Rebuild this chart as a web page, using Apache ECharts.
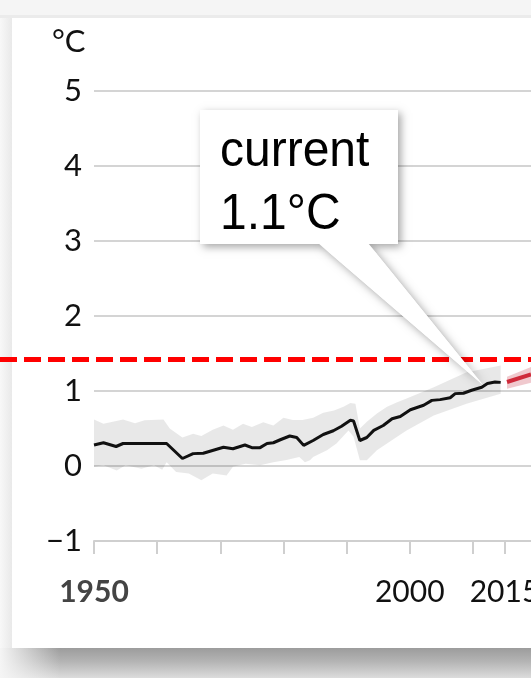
<!DOCTYPE html>
<html>
<head>
    <meta charset="utf-8" />
    <title>Global temperature | current 1.1°C</title>
    <style>
        html, body { margin: 0; padding: 0; background: #f5f5f5; }
        #chart { width: 531px; height: 678px; }
    </style>
</head>
<body>
    <div id="chart"></div>

    <script src="https://cdn.jsdelivr.net/npm/echarts@6/dist/echarts.min.js"></script>
    <script type="text/javascript">

        // observed temperature anomaly (black line)
        var lineYears = [1950, 1951.5, 1953.5, 1954.6, 1961.5, 1964, 1965.7, 1967.3, 1970.5, 1972, 1973.9, 1975,
            1976.3, 1977.4, 1978.4, 1979.5, 1981, 1982.1, 1983.2, 1984.7, 1986.3, 1987.9, 1989.2, 1990.6,
            1991.1, 1992.1, 1993.2, 1994.3, 1995.8, 1997.2, 1998.5, 2000.1, 2002.2, 2003.5, 2004.8, 2006.4,
            2007.2, 2008.5, 2009.8, 2011.4, 2012.3, 2013.5, 2014.4];
        var lineTemps = [0.28, 0.31, 0.26, 0.30, 0.30, 0.10, 0.165, 0.17, 0.25, 0.23, 0.28, 0.245,
            0.245, 0.30, 0.31, 0.35, 0.40, 0.38, 0.275, 0.34, 0.42, 0.47, 0.53, 0.61,
            0.60, 0.34, 0.38, 0.475, 0.54, 0.63, 0.66, 0.75, 0.81, 0.875, 0.885, 0.91,
            0.965, 0.97, 1.01, 1.05, 1.10, 1.12, 1.115];

        // uncertainty band (grey)
        var upperYears = [1950, 1951.5, 1954.6, 1956.5, 1958, 1961, 1962, 1964, 1965.7, 1967, 1968.8, 1970.5,
            1972, 1973.6, 1975, 1976.8, 1978.4, 1980, 1981.5, 1983, 1984.7, 1986.3, 1988, 1989.5, 1990.6,
            1991.4, 1992.1, 1993.2, 1994.8, 1996.4, 1998, 1999.5, 2003.8, 2009, 2014.4];
        var upperTemps = [0.62, 0.565, 0.62, 0.57, 0.61, 0.62, 0.50, 0.38, 0.43, 0.40, 0.485, 0.54,
            0.485, 0.565, 0.52, 0.585, 0.54, 0.645, 0.615, 0.615, 0.645, 0.71, 0.74, 0.79, 0.84,
            0.83, 0.50, 0.59, 0.70, 0.79, 0.85, 0.90, 1.05, 1.25, 1.34];
        var lowerYears = [1950, 1951.5, 1953.6, 1955, 1957.5, 1959.5, 1960.8, 1961.5, 1963, 1965, 1967, 1968.8,
            1971, 1972, 1974, 1976.3, 1978.4, 1980.5, 1982.5, 1983.4, 1984.2, 1984.7, 1986.9, 1988.4,
            1990.3, 1991.1, 1992.1, 1993.2, 1994.8, 1996.4, 1998, 1999.5, 2003.8, 2009, 2014.4];
        var lowerTemps = [-0.01, 0.01, -0.06, 0.01, -0.035, 0.01, -0.05, 0.05, -0.08, -0.10, -0.19, -0.10,
            -0.125, -0.01, 0.03, 0.01, 0.05, 0.08, 0.12, 0.05, 0.076, 0.12, 0.21, 0.30,
            0.475, 0.39, 0.076, 0.076, 0.21, 0.30, 0.39, 0.475, 0.675, 0.83, 0.965];

        // projection (red)
        var projYears = [2015.4, 2019.2];
        var projTemps = [1.12, 1.22];
        var projUpper = [1.19, 1.32];
        var projLower = [1.03, 1.11];

        var yTicks = [-1, 0, 1, 2, 3, 4, 5];
        var xTickYears = [1950, 1960, 1970, 1980, 1990, 2000, 2010, 2015];
        var xLabelYears = [1950, 2000, 2015];
        var limitLevel = 1.42;
        var currentPoint = [2011.6, 1.08];
        var calloutLines = ['current', '1.1°C'];

        function pairs(xs, ys) {
            return xs.map(function (x, i) { return [x, ys[i]]; });
        }

        function bandItem(uX, uY, lX, lY, color) {
            return function (params, api) {
                var pts = [];
                for (var i = 0; i < uX.length; i++) pts.push(api.coord([uX[i], uY[i]]));
                for (var j = lX.length - 1; j >= 0; j--) pts.push(api.coord([lX[j], lY[j]]));
                return { type: 'polygon', shape: { points: pts }, style: { fill: color } };
            };
        }

        var chart = echarts.init(document.getElementById('chart'));

        var option = {
            animation: false,
            title: {
                text: '°C',
                left: 52,
                top: 26,
                padding: 0,
                textStyle: { fontFamily: 'Lato', fontSize: 31, fontWeight: 'normal', color: '#111' }
            },
            grid: { left: 94, right: 0, top: 91, bottom: 137, containLabel: false, outerBoundsMode: 'none' },
            xAxis: {
                type: 'value',
                min: 1950,
                max: 2019.2,
                splitLine: { show: false },
                axisLine: { show: true, onZero: false, lineStyle: { color: '#cfcfcf', width: 2 } },
                axisTick: { show: true, customValues: xTickYears, length: 13, lineStyle: { color: '#cfcfcf', width: 2 } },
                axisLabel: {
                    customValues: xLabelYears,
                    margin: 36,
                    fontFamily: 'Lato',
                    fontSize: 30,
                    color: '#111',
                    formatter: function (v) { return v === 1950 ? '{a|' + v + '}' : String(v); },
                    rich: { a: { fontFamily: 'Lato', fontSize: 30, fontWeight: 'bold', color: '#444' } }
                }
            },
            yAxis: {
                type: 'value',
                min: yTicks[0],
                max: yTicks[yTicks.length - 1],
                interval: 1,
                axisLine: { show: false },
                axisTick: { show: false },
                splitLine: { lineStyle: { color: '#d4d4d4', width: 2 } },
                axisLabel: {
                    margin: 12,
                    fontFamily: 'Lato',
                    fontSize: 31,
                    color: '#111',
                    formatter: function (v) { return v < 0 ? '\u2212' + Math.abs(v) : String(v); }
                }
            },
            series: [
                {
                    type: 'custom',
                    silent: true,
                    data: [0],
                    z: 1,
                    renderItem: bandItem(upperYears, upperTemps, lowerYears, lowerTemps, 'rgba(0,0,0,0.09)')
                },
                {
                    type: 'custom',
                    silent: true,
                    data: [0],
                    z: 1,
                    renderItem: bandItem(projYears, projUpper, projYears, projLower, 'rgba(200,60,80,0.28)')
                },
                {
                    type: 'line',
                    data: pairs(lineYears, lineTemps),
                    showSymbol: false,
                    z: 3,
                    lineStyle: { color: '#111', width: 3 }
                },
                {
                    type: 'line',
                    data: pairs(projYears, projTemps),
                    showSymbol: false,
                    z: 3,
                    lineStyle: { color: '#cf2a3a', width: 4 }
                }
            ]
        };

        chart.setOption(option);

        // frame, dashed limit line and callout, placed from the axes
        var limitY = chart.convertToPixel({ gridIndex: 0 }, [1950, limitLevel])[1];
        var tip = chart.convertToPixel({ gridIndex: 0 }, currentPoint);
        var box = { x: 200, y: 110, w: 198, h: 134 };
        var base1 = [box.x + 118, box.y + box.h - 1];
        var base2 = [box.x + 168, box.y + box.h - 1];

        chart.setOption({
            graphic: [
                { type: 'rect', z: -10, silent: true, shape: { x: 12, y: 18, width: 519, height: 630 }, style: { fill: '#fff' } },
                { type: 'rect', z: -10, silent: true, shape: { x: 0, y: 15, width: 531, height: 3 }, style: { fill: '#ebebeb' } },
                {
                    type: 'rect', z: -10, silent: true, shape: { x: 0, y: 648, width: 531, height: 30 },
                    style: {
                        fill: new echarts.graphic.LinearGradient(0, 0, 0, 1, [
                            { offset: 0, color: '#9c9c9c' }, { offset: 0.45, color: '#b4b4b4' }, { offset: 1, color: '#dcdcdc' }
                        ])
                    }
                },
                {
                    type: 'rect', z: -9, silent: true, shape: { x: 0, y: 648, width: 60, height: 30 },
                    style: {
                        fill: new echarts.graphic.LinearGradient(0, 0, 1, 0, [
                            { offset: 0, color: 'rgba(245,245,245,1)' }, { offset: 1, color: 'rgba(245,245,245,0)' }
                        ])
                    }
                },
                {
                    type: 'rect', z: -10, silent: true, shape: { x: 0, y: 18, width: 12, height: 630 },
                    style: {
                        fill: new echarts.graphic.LinearGradient(0, 0, 1, 0, [
                            { offset: 0, color: '#f8f8f8' }, { offset: 1, color: '#e9e9e9' }
                        ])
                    }
                },
                {
                    type: 'line', z: 50, silent: true,
                    shape: { x1: 0, y1: limitY, x2: 531, y2: limitY },
                    style: { stroke: '#ff0000', lineWidth: 5, lineDash: [17, 7] }
                },
                {
                    type: 'polygon', z: 60, silent: true,
                    shape: { points: [base1, base2, tip] },
                    style: { fill: '#fff', shadowBlur: 8, shadowColor: 'rgba(0,0,0,0.35)', shadowOffsetX: 3, shadowOffsetY: 3 }
                },
                {
                    type: 'rect', z: 61, silent: true,
                    shape: { x: box.x, y: box.y, width: box.w, height: box.h },
                    style: { fill: '#fff', shadowBlur: 8, shadowColor: 'rgba(0,0,0,0.35)', shadowOffsetX: 3, shadowOffsetY: 3 }
                },
                {
                    type: 'polygon', z: 62, silent: true,
                    shape: { points: [base1, base2, tip] },
                    style: { fill: '#fff' }
                },
                {
                    type: 'text', z: 63, silent: true,
                    x: box.x + 20, y: box.y + 10,
                    scaleY: 1.06,
                    style: {
                        text: calloutLines.join('\n'),
                        font: '48px "Liberation Sans", Arial, sans-serif',
                        lineHeight: 60,
                        fill: '#000'
                    }
                }
            ]
        });

    </script>
</body>
</html>
